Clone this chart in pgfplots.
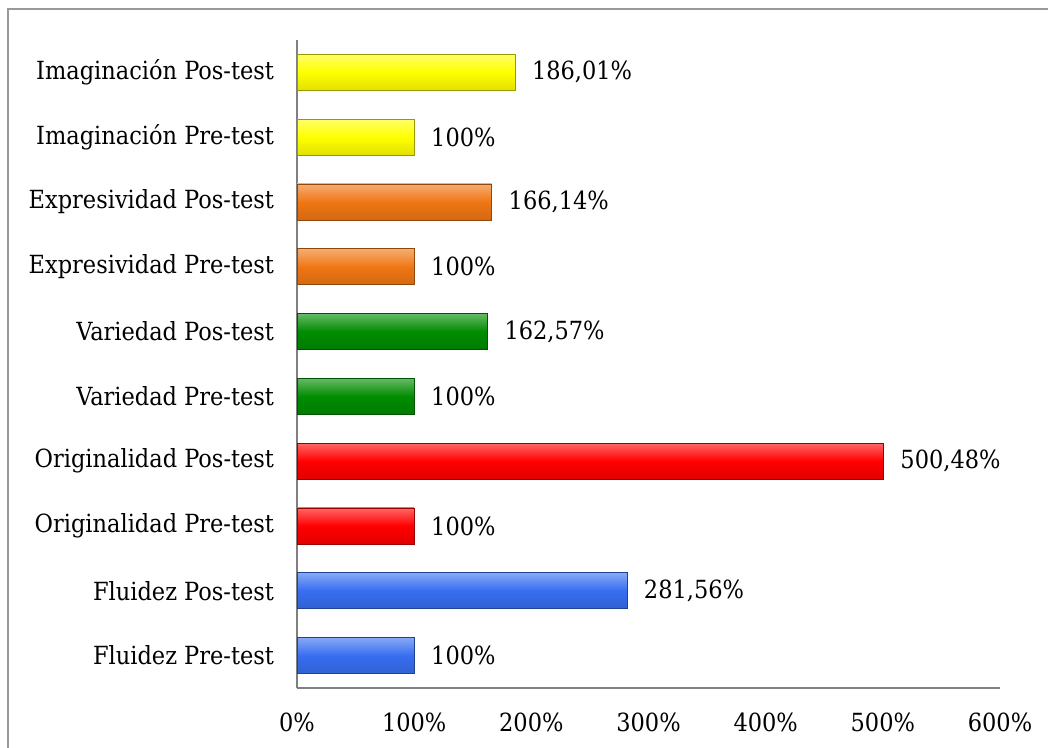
\documentclass[border=0pt]{standalone}
\usepackage{pgfplots}
\pgfplotsset{compat=1.18}
\usepackage{fontspec}
\setmainfont{DejaVu Serif Condensed}

\definecolor{yel}{RGB}{255,255,0}
\definecolor{org}{RGB}{240,118,20}
\definecolor{grn}{RGB}{0,140,0}
\definecolor{rd}{RGB}{255,0,0}
\definecolor{blu}{RGB}{55,110,240}
\newcommand\lbl{\fontsize{12.5pt}{15pt}\selectfont}

\pgfplotsset{
  bevel/.style={bar shift=0pt, draw=#1!60!black, line width=0.4pt,
    top color=#1!60!white, bottom color=#1!88!black, middle color=#1},
}

\begin{document}
\begin{tikzpicture}[x=1pt,y=1pt]
\useasboundingbox (0,0) rectangle (524,374);
\fill[white] (0,0) rectangle (524,374);
\draw[gray!80, line width=0.8pt] (4,-2) -- (4,369.5) -- (526,369.5);
\begin{axis}[
  at={(148.5pt,30pt)}, anchor=south west,
  scale only axis, width=351.5pt, height=324pt,
  xmin=0, xmax=600, ymin=-0.5, ymax=9.5,
  axis x line*=bottom, axis y line*=left,
  axis line style={gray, line width=0.8pt},
  major tick length=0pt,
  xtick={0,100,200,300,400,500,600},
  xticklabels={0\%,100\%,200\%,300\%,400\%,500\%,600\%},
  ytick={0,1,2,3,4,5,6,7,8,9},
  yticklabels={Fluidez Pre-test, Fluidez Pos-test, Originalidad Pre-test,
    Originalidad Pos-test, Variedad Pre-test, Variedad Pos-test,
    Expresividad Pre-test, Expresividad Pos-test, Imaginación Pre-test,
    Imaginación Pos-test},
  tick label style={font=\lbl},
  xticklabel style={yshift=-9pt},
  yticklabel style={xshift=-8pt},
  xbar, bar width=18pt,
  clip=false,
  point meta=explicit symbolic,
  nodes near coords={\pgfplotspointmeta},
  every node near coord/.append style={font=\lbl, black, anchor=west, xshift=5pt},
]
% one plot per bar, so that each bar gets its own shading
\addplot[bevel=blu] coordinates {(100,0) [100\%]};
\addplot[bevel=blu] coordinates {(281.56,1) [281,56\%]};
\addplot[bevel=rd]  coordinates {(100,2) [100\%]};
\addplot[bevel=rd]  coordinates {(500.48,3) [500,48\%]};
\addplot[bevel=grn] coordinates {(100,4) [100\%]};
\addplot[bevel=grn] coordinates {(162.57,5) [162,57\%]};
\addplot[bevel=org] coordinates {(100,6) [100\%]};
\addplot[bevel=org] coordinates {(166.14,7) [166,14\%]};
\addplot[bevel=yel] coordinates {(100,8) [100\%]};
\addplot[bevel=yel] coordinates {(186.01,9) [186,01\%]};
\end{axis}
\end{tikzpicture}
\end{document}
